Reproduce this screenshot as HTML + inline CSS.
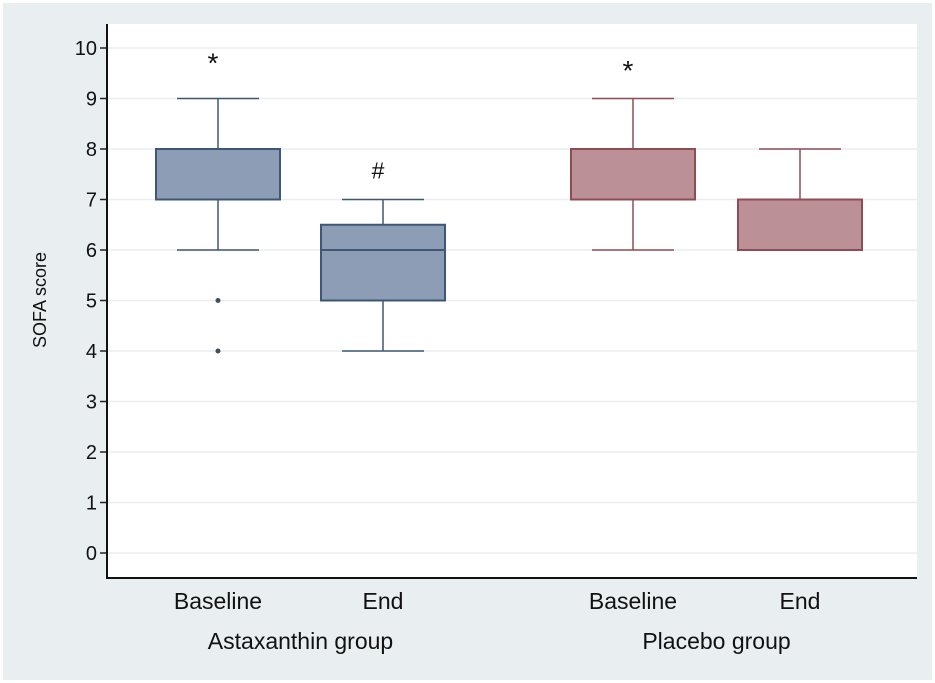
<!DOCTYPE html>
<html><head><meta charset="utf-8"><style>
body{margin:0;background:#fff}
svg{display:block;font-family:"Liberation Sans",sans-serif}
</style></head><body>
<svg width="935" height="683">
<rect x="3" y="3" width="929" height="677" fill="#e9eef1"/>
<rect x="107" y="24" width="810" height="554" fill="#fff"/>
<g id="grid"></g><g id="axis"></g><g id="boxes"></g>
<text x="46" y="300" font-size="18" text-anchor="middle" transform="rotate(-90 46 300)" fill="#111">SOFA score</text>
</svg>
<script>
const categories=["Baseline","End","Baseline","End"];
const groups=["Astaxanthin group","Placebo group"];
const mins=[6,4,6,6];
const q1s=[7,5,7,6];
const medians=[8,6,8,6];
const q3s=[8,6.5,8,7];
const maxs=[9,7,9,8];
const outliers=[[5,4],[],[],[]];
const marks=["*","#","*",""];
const markVals=[9.75,7.65,9.6,0];
const yTicks=[0,1,2,3,4,5,6,7,8,9,10];
const NS="http://www.w3.org/2000/svg";
const centers=[218,383,633,800];
const y=v=>553-v*50.5;
function mk(t,a,p){const e=document.createElementNS(NS,t);for(const k in a)e.setAttribute(k,a[k]);p.appendChild(e);return e;}
const grid=document.getElementById('grid'),axis=document.getElementById('axis'),bx=document.getElementById('boxes');
yTicks.forEach(v=>{
 const g=mk('line',{x1:108,x2:917,y1:y(v),y2:y(v),stroke:'#eaeef0','stroke-width':1.5},grid);
 
 
 const t=mk('line',{x1:100,x2:107,y1:y(v),y2:y(v),stroke:'#222','stroke-width':1.5},axis);
 
 
 const l=mk('text',{x:97,y:y(v)+7,'font-size':20,'text-anchor':'end',fill:'#111'},axis);l.textContent=v;
 
 
});
const ya=mk('line',{x1:107,x2:107,y1:24,y2:578,stroke:'#111','stroke-width':2},axis);


const xa=mk('line',{x1:106,x2:917,y1:578,y2:578,stroke:'#111','stroke-width':2},axis);


categories.forEach((c,i)=>{
 const cx=centers[i],blue=i<2,fill=blue?'#8d9db5':'#bb9197',st=blue?'#3e5777':'#8e4d55';
 const g=mk('g',{},bx);
 
 
 mk('line',{x1:cx,x2:cx,y1:y(maxs[i]),y2:y(q3s[i]),stroke:st,'stroke-width':1.5},g);
 mk('line',{x1:cx,x2:cx,y1:y(q1s[i]),y2:y(mins[i]),stroke:st,'stroke-width':1.5},g);
 mk('line',{x1:cx-41,x2:cx+41,y1:y(maxs[i]),y2:y(maxs[i]),stroke:st,'stroke-width':1.5},g);
 mk('line',{x1:cx-41,x2:cx+41,y1:y(mins[i]),y2:y(mins[i]),stroke:st,'stroke-width':1.5},g);
 mk('rect',{x:cx-62,y:y(q3s[i]),width:124,height:y(q1s[i])-y(q3s[i]),fill:fill,stroke:st,'stroke-width':2},g);
 mk('line',{x1:cx-62,x2:cx+62,y1:y(medians[i]),y2:y(medians[i]),stroke:st,'stroke-width':2},g);
 outliers[i].forEach(o=>{const d=mk('circle',{cx:cx,cy:y(o),r:2.5,fill:'#3e5060'},g);
  
  });
 if(marks[i]){const m=mk('text',{x:cx-5,y:y(markVals[i])+12,'font-size':marks[i]=='*'?28:23,'text-anchor':'middle',fill:'#111'},g);m.textContent=marks[i];
  
  }
 const l=mk('text',{x:cx,y:609,'font-size':23,'text-anchor':'middle',fill:'#111'},axis);l.textContent=c;
 
 
});
groups.forEach((gname,j)=>{
 const t=mk('text',{x:(centers[2*j]+centers[2*j+1])/2,y:649,'font-size':23,'text-anchor':'middle',fill:'#111'},axis);t.textContent=gname;
 
 
});
</script>
</body></html>
